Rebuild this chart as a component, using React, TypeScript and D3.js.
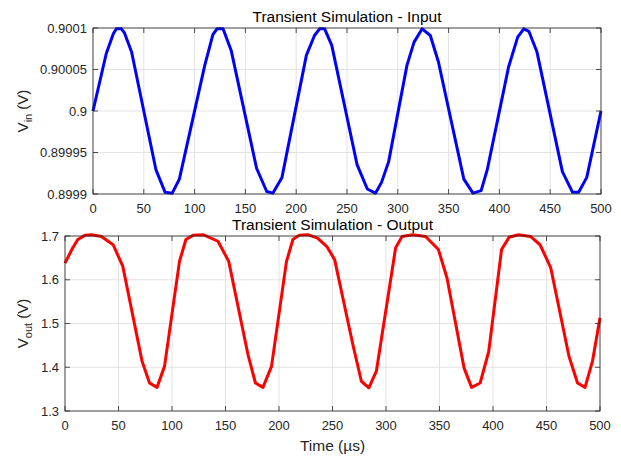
import * as d3 from "d3";

// sample times (µs) and values
const inTimes = [0, 13, 20, 23, 28, 31, 38, 62, 71, 78, 85, 110, 118, 122, 128, 136, 161, 171, 177, 186, 210, 218, 223, 228, 235, 260, 270, 278, 284, 291, 309, 316, 324, 332, 340, 365, 374, 382, 388, 409, 418, 424, 429, 437, 462, 472, 478, 486, 500];
const inVolts = [0.9, 0.900069, 0.900093, 0.900099, 0.900099, 0.900094, 0.900071, 0.899929, 0.899902, 0.899901, 0.899918, 0.900055, 0.900092, 0.900099, 0.900099, 0.900073, 0.899931, 0.899903, 0.899901, 0.89992, 0.900067, 0.900091, 0.900099, 0.900099, 0.900079, 0.899935, 0.899906, 0.899901, 0.899914, 0.899939, 0.900055, 0.900083, 0.900099, 0.900091, 0.900059, 0.899918, 0.899901, 0.899904, 0.899929, 0.900053, 0.900089, 0.900099, 0.900096, 0.900071, 0.899927, 0.899902, 0.899902, 0.89992, 0.9];

const outTimes = [0, 7, 12, 19, 25, 34, 45, 54, 72, 79, 86, 93, 107, 113, 120, 129, 143, 153, 171, 178, 185, 193, 207, 213, 219, 227, 236, 245, 252, 269, 277, 284, 291, 309, 315, 325, 337, 349, 357, 373, 380, 388, 396, 408, 415, 424, 435, 444, 454, 471, 479, 486, 493, 500];
const outVolts = [1.638, 1.672, 1.692, 1.702, 1.703, 1.699, 1.68, 1.631, 1.414, 1.364, 1.354, 1.402, 1.642, 1.692, 1.702, 1.703, 1.688, 1.642, 1.429, 1.364, 1.354, 1.402, 1.642, 1.692, 1.702, 1.703, 1.695, 1.675, 1.646, 1.452, 1.368, 1.353, 1.391, 1.673, 1.699, 1.703, 1.699, 1.669, 1.604, 1.398, 1.354, 1.364, 1.436, 1.669, 1.697, 1.703, 1.699, 1.68, 1.627, 1.425, 1.364, 1.354, 1.414, 1.513];

const xTicks = [0, 50, 100, 150, 200, 250, 300, 350, 400, 450, 500];
const inTicks = [0.8999, 0.89995, 0.9, 0.90005, 0.9001];
const inTickLabels = ["0.8999", "0.89995", "0.9", "0.90005", "0.9001"];
const outTicks = [1.3, 1.4, 1.5, 1.6, 1.7];
const outTickLabels = ["1.3", "1.4", "1.5", "1.6", "1.7"];

const FONT = "Liberation Sans, Arial, Helvetica, sans-serif";
const TXT = "#262626";
const GRID = "#e3e3e3";

type PanelProps = {
  left: number; right: number; top: number; bottom: number;
  times: number[]; volts: number[]; yDomain: [number, number];
  yTicks: number[]; yLabels: string[]; color: string;
  title: string; sub: string; xLabel?: string;
};

function Panel(p: PanelProps) {
  const x = d3.scaleLinear().domain([0, 500]).range([p.left, p.right]);
  const y = d3.scaleLinear().domain(p.yDomain).range([p.bottom, p.top]);
  const pts = p.times.map((t, i) => [t, p.volts[i]] as [number, number]);
  const path = d3.line<[number, number]>().x((d) => x(d[0])).y((d) => y(d[1]))(pts) || "";
  const tl = 5;
  const midY = (p.top + p.bottom) / 2;
  return (
    <g fontFamily={FONT}>
      {xTicks.map((t) => (
        <line key={"gx" + t} x1={x(t)} x2={x(t)} y1={p.top} y2={p.bottom} stroke={GRID} strokeWidth={1} />
      ))}
      {p.yTicks.map((t) => (
        <line key={"gy" + t} x1={p.left} x2={p.right} y1={y(t)} y2={y(t)} stroke={GRID} strokeWidth={1} />
      ))}
      <path d={path} fill="none" stroke={p.color} strokeWidth={3} strokeLinejoin="round" />
      <rect x={p.left} y={p.top} width={p.right - p.left} height={p.bottom - p.top} fill="none" stroke={TXT} strokeWidth={0.8} />
      {xTicks.map((t) => (
        <g key={"tx" + t}>
          <line x1={x(t)} x2={x(t)} y1={p.bottom} y2={p.bottom - tl} stroke={TXT} strokeWidth={0.8} />
          <line x1={x(t)} x2={x(t)} y1={p.top} y2={p.top + tl} stroke={TXT} strokeWidth={0.8} />
          <text x={x(t)} y={p.bottom + 19} textAnchor="middle" fontSize={13} fill={TXT}>{t}</text>
        </g>
      ))}
      {p.yTicks.map((t, i) => (
        <g key={"ty" + t}>
          <line x1={p.left} x2={p.left + tl} y1={y(t)} y2={y(t)} stroke={TXT} strokeWidth={0.8} />
          <line x1={p.right} x2={p.right - tl} y1={y(t)} y2={y(t)} stroke={TXT} strokeWidth={0.8} />
          <text x={p.left - 6} y={y(t) + 4.5} textAnchor="end" fontSize={13} fill={TXT}>{p.yLabels[i]}</text>
        </g>
      ))}
      <text x={(p.left + p.right) / 2} y={p.top - 6} textAnchor="middle" fontSize={15.5} fill="#000">{p.title}</text>
      <text transform={`translate(28,${midY}) rotate(-90)`} textAnchor="middle" fontSize={15} fill={TXT}>
        V<tspan fontSize={11} dy={4}>{p.sub}</tspan><tspan dy={-4}> (V)</tspan>
      </text>
      {p.xLabel && (
        <text x={(p.left + p.right) / 2} y={p.bottom + 40} textAnchor="middle" fontSize={15.5} fill={TXT}>{p.xLabel}</text>
      )}
    </g>
  );
}

export default function App() {
  return (
    <svg width={621} height={457} style={{ position: "absolute", left: 0, top: 0, background: "#fff" }}>
      <rect width={621} height={457} fill="#fff" />
      <Panel left={93} right={601} top={28} bottom={194} times={inTimes} volts={inVolts}
        yDomain={[0.8999, 0.9001]} yTicks={inTicks} yLabels={inTickLabels} color="#0000ff"
        title="Transient Simulation - Input" sub="in" />
      <Panel left={65} right={600} top={236} bottom={411} times={outTimes} volts={outVolts}
        yDomain={[1.3, 1.7]} yTicks={outTicks} yLabels={outTickLabels} color="#ff0000"
        title="Transient Simulation - Output" sub="out" xLabel="Time (µs)" />
    </svg>
  );
}
